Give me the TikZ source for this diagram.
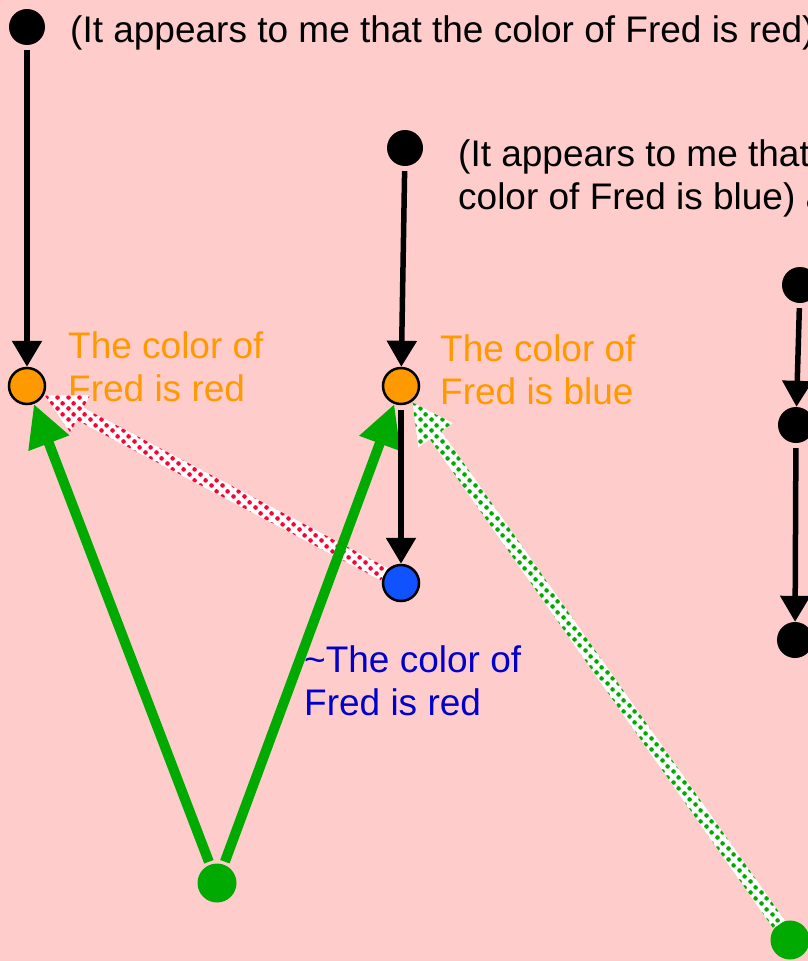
\documentclass[tikz,border=0pt]{standalone}
\usepackage{fontspec}
\setmainfont{Liberation Sans}
\usepackage{xcolor}
\usepackage{tikz}
\usetikzlibrary{positioning, calc, arrows.meta, patterns.meta}

\definecolor{bgpink}{HTML}{FFCCCC}
\definecolor{dotorange}{HTML}{FF9900}
\definecolor{argreen}{HTML}{00AA00}
\definecolor{dotblue}{HTML}{1152FF}
\definecolor{labelblue}{HTML}{0000CC}
\definecolor{dotred}{HTML}{FF0033}

\tikzdeclarepattern{
  name=bigdots,
  type=uncolored,
  bottom left={(0pt,0pt)},
  top right={(11pt,11pt)},
  tile size={(11pt,11pt)},
  code={
    \fill (2.75pt,2.75pt) circle [radius=2.5pt];
    \fill (8.25pt,8.25pt) circle [radius=2.5pt];
  }
}

% wide white arrow with coloured dots, from node #1 to node #2
\newcommand{\dotarrow}[3]{%
  \fill[white, postaction={pattern=bigdots, pattern color=#3}]
    let \p1=($(#1)!19pt!(#2)$), \p2=($(#2)!20pt!(#1)$),
        \n1={atan2(\y2-\y1,\x2-\x1)}, \n2={veclen(\x2-\x1,\y2-\y1)-40pt} in
    ($(\p1)+(\n1+90:7pt)$) -- ($(\p1)+(\n1:\n2)+(\n1+90:7pt)$)
    -- ($(\p1)+(\n1:\n2)+(\n1+90:21pt)$) -- (\p2)
    -- ($(\p1)+(\n1:\n2)+(\n1-90:21pt)$) -- ($(\p1)+(\n1:\n2)+(\n1-90:7pt)$)
    -- ($(\p1)+(\n1-90:7pt)$) -- cycle;}

\begin{document}
\begin{tikzpicture}[x=1pt, y=-1pt,
    blackdot/.style={circle, fill=black, minimum size=36pt, inner sep=0pt},
    orangedot/.style={circle, fill=dotorange, draw=black, line width=2.5pt, minimum size=36pt, inner sep=0pt},
    bluedot/.style={circle, fill=dotblue, draw=black, line width=2.5pt, minimum size=36pt, inner sep=0pt},
    greendot/.style={circle, fill=argreen, minimum size=39pt, inner sep=0pt},
    lbl/.style={inner sep=0pt, align=left, font=\fontsize{37}{43}\selectfont},
    orangelbl/.style={lbl, text=dotorange},
    bluelbl/.style={lbl, text=labelblue},
    blackarrow/.style={line width=5.5pt, -{Triangle[length=26pt, width=29pt]}, shorten <=5pt},
    greenarrow/.style={argreen, line width=10pt, -{Triangle[length=42pt, width=41pt]}, shorten <=3pt}]
  \useasboundingbox (0,0) rectangle (808,961);
  \clip (0,0) rectangle (808,961);
  \fill[bgpink] (0,0) rectangle (808,961);

  % appearances
  \node[blackdot] (ar) at (27,27) {};
  \node[lbl, anchor=base west] (tr) at (70,42) {(It appears to me that the color of Fred is red)};
  \node[blackdot] (ab) at (405,148) {};
  \node[lbl, anchor=north west] (tb) at (458,139) {(It appears to me that\\color of Fred is blue) a};

  % conclusions
  \node[orangedot] (fr) at (27,386) {};
  \node[orangelbl, anchor=north west] (lr) at (68,331) {The color of\\Fred is red};
  \node[orangedot] (fb) at (401,386) {};
  \node[orangelbl, anchor=north west] (lb) at (440,334) {The color of\\Fred is blue};
  \node[bluedot] (nr) at (401,583) {};
  \node[bluelbl, anchor=north west] (ln) at (304,645) {\textasciitilde The color of\\Fred is red};

  % green sources
  \node[greendot] (gl) at (217,883) {};
  \node[greendot] (gr) at (790,940) {};

  % right column
  \node[blackdot] (c1) at (800,285) {};
  \node[blackdot] (c2) at (796,425) {};
  \node[blackdot] (c3) at (795,640) {};

  % defeaters
  \dotarrow{nr}{fr}{dotred}
  \dotarrow{gr}{fb}{argreen}

  % supports
  \draw[greenarrow] (gl) -- (fr);
  \draw[greenarrow] (gl) -- (fb);

  \draw[blackarrow] (ar) -- (fr);
  \draw[blackarrow] (ab) -- (fb);
  \draw[blackarrow] (fb) -- (nr);
  \draw[blackarrow] (c1) -- (c2);
  \draw[blackarrow] (c2) -- (c3);
\end{tikzpicture}
\end{document}
